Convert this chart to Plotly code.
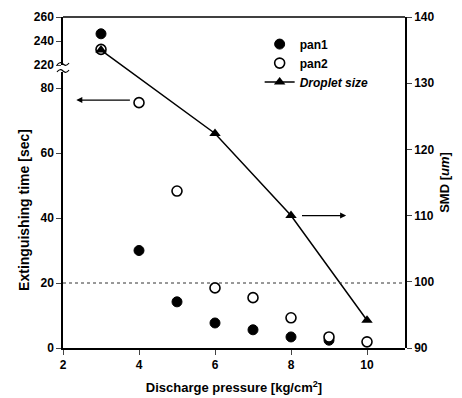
import plotly.graph_objects as go

# ---- data ----
pan1_x = [4, 5, 6, 7, 8, 9]
pan1_y = [30, 14.2, 7.7, 5.6, 3.4, 2.4]
pan1_top_x = [3]
pan1_top_y = [246]
pan2_x = [4, 5, 6, 7, 8, 9, 10]
pan2_y = [75.5, 48.3, 18.5, 15.5, 9.3, 3.4, 1.9]
pan2_top_x = [3]
pan2_top_y = [233]
drop_x = [3, 6, 8, 10]
drop_y = [135, 122.4, 110, 94.2]

x_ticks = [2, 4, 6, 8, 10]
y_low_ticks = [0, 20, 40, 60, 80]
y_high_ticks = [220, 240, 260]
smd_ticks = [90, 100, 110, 120, 130, 140]

W, H = 462, 398
L, R, T, B = 63, 405, 17, 348
FONT = "Liberation Sans, Arial, sans-serif"


def px2paper(px, py):
    return (px - L) / (R - L), (B - py) / (B - T)


low_top = px2paper(0, 72)[1]
high_bot = px2paper(0, 65)[1]

fig = go.Figure()
mk_fill = dict(symbol="circle", size=10, color="black", line=dict(color="black", width=1))
mk_open = dict(symbol="circle", size=10, color="white", line=dict(color="black", width=1.6))

fig.add_trace(go.Scatter(x=pan1_x, y=pan1_y, mode="markers", name="pan1", marker=mk_fill,
                         xaxis="x", yaxis="y", cliponaxis=False))
fig.add_trace(go.Scatter(x=pan2_x, y=pan2_y, mode="markers", name="pan2", marker=mk_open,
                         xaxis="x", yaxis="y", cliponaxis=False))
fig.add_trace(go.Scatter(x=pan1_top_x, y=pan1_top_y, mode="markers", showlegend=False,
                         marker=mk_fill, xaxis="x", yaxis="y2", cliponaxis=False))
fig.add_trace(go.Scatter(x=pan2_top_x, y=pan2_top_y, mode="markers", showlegend=False,
                         marker=mk_open, xaxis="x", yaxis="y2", cliponaxis=False))
fig.add_trace(go.Scatter(x=drop_x, y=drop_y, mode="lines+markers", name="<i>Droplet size</i>",
                         line=dict(color="black", width=1.5),
                         marker=dict(symbol="triangle-up", size=10, color="black"),
                         xaxis="x", yaxis="y3", cliponaxis=False))

tickfont = dict(family=FONT, size=12, color="black", weight="bold")
titlefont = dict(family=FONT, size=13, color="black", weight="bold")

low_range = [0, 80 * (B - 72) / (B - 88)]

fig.update_layout(
    width=W, height=H,
    margin=dict(l=L, r=W - R, t=T, b=H - B, pad=0),
    paper_bgcolor="white", plot_bgcolor="rgba(0,0,0,0)",
    font=dict(family=FONT, color="black"),
    xaxis=dict(range=[2, 11], tickvals=x_ticks, ticks="outside", ticklen=5, tickwidth=1.2,
               showline=True, linecolor="black", linewidth=1.5, showgrid=False, zeroline=False,
               tickfont=tickfont, anchor="y", automargin=False,
               title=dict(text="Discharge pressure [kg/cm<sup>2</sup>]", font=titlefont, standoff=12)),
    yaxis=dict(domain=[0, low_top], range=low_range, tickvals=y_low_ticks, ticks="outside",
               ticklen=5, tickwidth=1.2, showline=True, linecolor="black", linewidth=1.5,
               showgrid=False, zeroline=False, tickfont=tickfont, anchor="x", automargin=False,
               title=dict(text="Extinguishing time [sec]",
                          font=dict(family=FONT, size=14, color="black", weight="bold"), standoff=8)),
    yaxis2=dict(domain=[high_bot, 1], range=[220, 260], tickvals=y_high_ticks, ticks="outside",
                ticklen=5, tickwidth=1.2, showline=True, linecolor="black", linewidth=1.5,
                showgrid=False, zeroline=False, tickfont=tickfont, anchor="x", automargin=False),
    yaxis3=dict(domain=[0, 1], range=[90, 140], tickvals=smd_ticks, ticks="outside", side="right",
                ticklen=5, tickwidth=1.2, showline=True, linecolor="black", linewidth=1.5,
                showgrid=False, zeroline=False, tickfont=tickfont, anchor="x", automargin=False,
                title=dict(text="SMD [<i>um</i>]", font=titlefont, standoff=6)),
    legend=dict(x=0.575, y=0.962, xanchor="left", yanchor="top", bgcolor="rgba(0,0,0,0)",
                font=dict(family=FONT, size=12, color="black", weight="bold"),
                itemwidth=30, tracegroupgap=0),
    showlegend=True,
)

shapes = []
shapes.append(dict(type="line", xref="paper", yref="paper", x0=0, x1=1, y0=1, y1=1,
                   line=dict(color="black", width=1.5)))
shapes.append(dict(type="line", xref="x", yref="y", x0=2, x1=11, y0=20, y1=20,
                   line=dict(color="#333333", width=1, dash="dot")))
for py in (64, 71):
    pts = [px2paper(57, py + 1), px2paper(60, py - 3), px2paper(63, py),
           px2paper(66, py + 3), px2paper(69, py - 1)]
    path = "M {0[0]},{0[1]} Q {1[0]},{1[1]} {2[0]},{2[1]} Q {3[0]},{3[1]} {4[0]},{4[1]}".format(*pts)
    shapes.append(dict(type="path", xref="paper", yref="paper", path=path,
                       line=dict(color="black", width=1.2)))
fig.update_layout(shapes=shapes)

fig.add_annotation(x=2.35, y=76.3, xref="x", yref="y", ax=3.8, ay=76.3, axref="x", ayref="y",
                   showarrow=True, arrowhead=2, arrowsize=1, arrowwidth=1.2, arrowcolor="black", text="")
fig.add_annotation(x=9.45, y=110, xref="x", yref="y3", ax=8.25, ay=110, axref="x", ayref="y3",
                   showarrow=True, arrowhead=2, arrowsize=1, arrowwidth=1.2, arrowcolor="black", text="")

fig.write_html("out.html")
